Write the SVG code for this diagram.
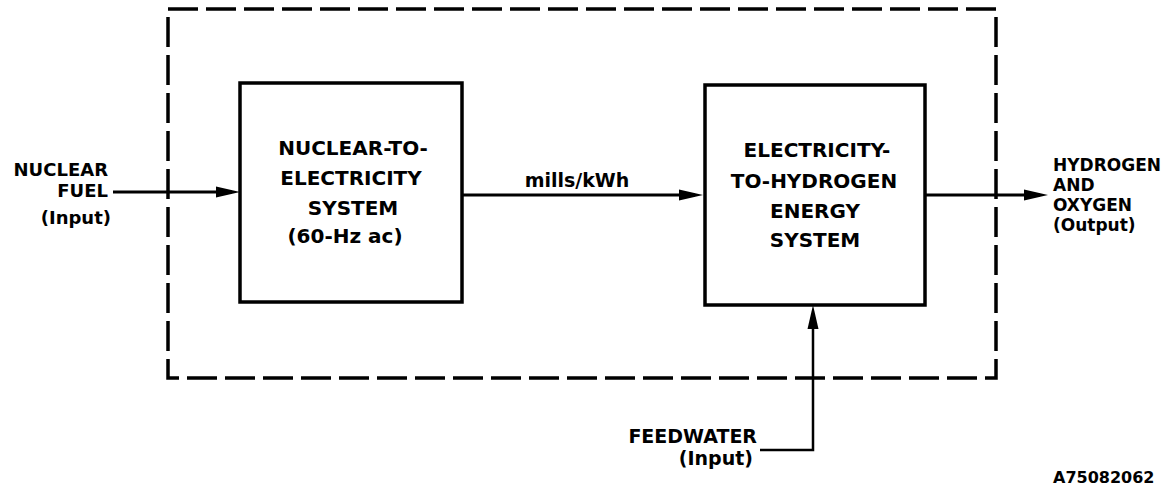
<svg xmlns="http://www.w3.org/2000/svg" width="1171" height="489" viewBox="0 0 1171 489">
<style>
text{font-family:"DejaVu Sans","Liberation Sans",sans-serif;font-weight:bold;fill:#000}
.box{fill:none;stroke:#000;stroke-width:3.5}
.bound{fill:none;stroke:#000;stroke-width:3.5;stroke-dasharray:30 8}
.ln{fill:none;stroke:#000;stroke-width:3}
.t20{font-size:20px}
.t19{font-size:19px}
.t18{font-size:18px}
.t17{font-size:17px}
.c{text-anchor:middle}
.e{text-anchor:end}
</style>
<defs>
<marker id="ah" markerUnits="userSpaceOnUse" markerWidth="24" markerHeight="12" refX="16" refY="6" orient="auto">
<path d="M0,0.5 L24,6 L0,11.5 z" fill="#000"/>
</marker>
</defs>
<rect fill="#fff" x="0" y="0" width="1171" height="489"/>
<g id="boundary">
<rect class="bound" x="168" y="9" width="828" height="369"/>
</g>
<g id="nuclear-fuel">
<text class="t18 e" x="108" y="176">NUCLEAR</text>
<text class="t18 e" x="108" y="197">FUEL</text>
<text class="t18 e" x="111" y="224">(Input)</text>
</g>
<g id="nuclear-to-electricity">
<rect class="box" x="240" y="83" width="222" height="219"/>
<text class="t20 c" x="353" y="155">NUCLEAR-TO-</text>
<text class="t20 c" x="351" y="185">ELECTRICITY</text>
<text class="t20 c" x="353" y="215">SYSTEM</text>
<text class="t20 c" x="345" y="243">(60-Hz ac)</text>
</g>
<g id="electricity-to-hydrogen">
<rect class="box" x="705" y="85" width="220" height="220"/>
<text class="t20 c" x="817" y="157">ELECTRICITY-</text>
<text class="t20 c" x="814" y="188">TO-HYDROGEN</text>
<text class="t20 c" x="815" y="218">ENERGY</text>
<text class="t20 c" x="815" y="247">SYSTEM</text>
</g>
<g id="hydrogen-oxygen">
<text class="t17" x="1053" y="171">HYDROGEN</text>
<text class="t17" x="1053" y="191">AND</text>
<text class="t17" x="1053" y="211">OXYGEN</text>
<text class="t17" x="1053" y="231">(Output)</text>
</g>
<g id="feedwater">
<text class="t19 e" x="757" y="443">FEEDWATER</text>
<text class="t19 e" x="753" y="465">(Input)</text>
</g>
<g id="code">
<text x="1053" y="483" style="font-size:16px">A75082062</text>
</g>
<g id="connectors">
<line class="ln" x1="113" y1="192" x2="232" y2="192" marker-end="url(#ah)"/>
<line class="ln" x1="462" y1="195" x2="695" y2="195" marker-end="url(#ah)"/>
<text class="t19 c" x="577" y="187">mills/kWh</text>
<line class="ln" x1="925" y1="195" x2="1040" y2="195" marker-end="url(#ah)"/>
<polyline class="ln" style="stroke-width:2.5" points="760,450 813,450 813,313" marker-end="url(#ah)"/>
</g>
</svg>
